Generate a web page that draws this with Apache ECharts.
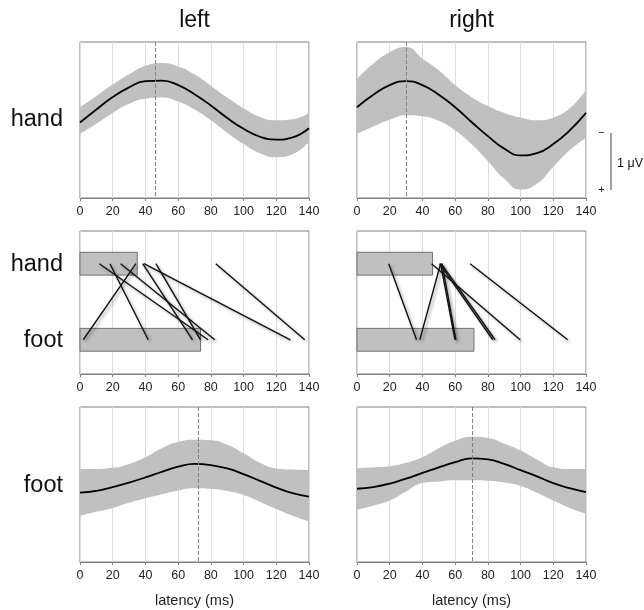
<!DOCTYPE html>
<html>
<head>
<meta charset="utf-8">
<script src="https://cdn.jsdelivr.net/npm/echarts@6/dist/echarts.min.js"></script>
<style>
  html, body { margin: 0; padding: 0; background: #fff; }
  #main { width: 644px; height: 610px; }
</style>
</head>
<body>
<div id="main"></div>
<script>
// latency samples (ms)
var latency = [0, 10, 20, 30, 40, 50, 60, 70, 80, 90, 100, 110, 120, 130, 140];
var xTicks = [0, 140, 20];

// amplitude in uV, negative is drawn up
var leftHandMean  = [-0.08, -0.31, -0.53, -0.70, -0.81, -0.82, -0.74, -0.58, -0.38, -0.16, 0.03, 0.17, 0.22, 0.18, 0.02];
var leftHandUpper = [-0.35, -0.55, -0.75, -0.93, -1.08, -1.13, -1.07, -0.93, -0.73, -0.52, -0.33, -0.18, -0.12, -0.14, -0.25];
var leftHandLower = [0.12, -0.06, -0.25, -0.41, -0.50, -0.52, -0.45, -0.31, -0.12, 0.10, 0.30, 0.46, 0.53, 0.48, 0.26];

var rightHandMean  = [-0.35, -0.57, -0.74, -0.81, -0.74, -0.57, -0.35, -0.09, 0.16, 0.38, 0.50, 0.46, 0.30, 0.06, -0.25];
var rightHandUpper = [-0.85, -1.12, -1.32, -1.41, -1.21, -1.00, -0.74, -0.53, -0.37, -0.25, -0.17, -0.12, -0.17, -0.33, -0.66];
var rightHandLower = [0.12, -0.01, -0.13, -0.21, -0.19, -0.11, 0.06, 0.30, 0.60, 0.91, 1.10, 1.00, 0.70, 0.41, 0.19];

var leftFootMean  = [0.02, -0.01, -0.08, -0.16, -0.25, -0.35, -0.44, -0.49, -0.47, -0.41, -0.31, -0.19, -0.07, 0.03, 0.09];
var leftFootUpper = [-0.40, -0.40, -0.42, -0.49, -0.61, -0.77, -0.88, -0.92, -0.91, -0.83, -0.68, -0.51, -0.41, -0.39, -0.38];
var leftFootLower = [0.43, 0.36, 0.29, 0.20, 0.12, 0.05, -0.02, -0.06, -0.05, -0.01, 0.06, 0.18, 0.31, 0.43, 0.53];

var rightFootMean  = [-0.05, -0.08, -0.14, -0.23, -0.33, -0.43, -0.52, -0.59, -0.57, -0.49, -0.38, -0.27, -0.15, -0.06, 0.01];
var rightFootUpper = [-0.41, -0.43, -0.45, -0.51, -0.61, -0.77, -0.90, -0.97, -0.95, -0.85, -0.73, -0.57, -0.43, -0.40, -0.40];
var rightFootLower = [0.32, 0.25, 0.16, 0.00, -0.15, -0.18, -0.20, -0.20, -0.19, -0.16, -0.10, 0.02, 0.16, 0.29, 0.39];

// peak latency markers (ms)
var peaks = [46, 30, 72.5, 70.5];

// single-subject latencies: hand -> foot (ms)
var leftHandLat  = [11.8, 18.3, 24.8, 34.2, 38.3, 39.1, 46.4, 83.0];
var leftFootLat  = [78.3, 41.7, 82.4, 2.0, 68.8, 128.6, 73.7, 137.4];
var rightHandLat = [19.4, 51.1, 51.1, 52.0, 45.6, 50.5, 51.5, 69.1];
var rightFootLat = [36.4, 38.4, 59.9, 60.5, 99.7, 83.0, 84.4, 128.8];
var leftBars  = [35.0, 73.7];   // hand, foot
var rightBars = [46.2, 71.5];

var rows = ['hand', 'foot'];
var rowY = [1, 0];

var font = "'Liberation Sans', Arial, sans-serif";

var dom = document.getElementById('main');
var myChart = echarts.init(dom);

function pairs(xs, ys) {
  return xs.map(function (x, i) { return [x, ys[i]]; });
}
// y first, so the stack runs on the y dimension
function yxPairs(xs, ys) {
  return xs.map(function (x, i) { return [ys[i], x]; });
}
function diff(a, b) {
  return a.map(function (v, i) { return +(v - b[i]).toFixed(3); });
}

var gridPos = [
  { left: 80, top: 42, height: 156 },
  { left: 357, top: 42, height: 156 },
  { left: 80, top: 231, height: 143 },
  { left: 357, top: 231, height: 143 },
  { left: 80, top: 407, height: 155 },
  { left: 357, top: 407, height: 155 }
];

var grids = gridPos.map(function (g) {
  return {
    left: g.left, top: g.top, width: 229, height: g.height,
    show: true, borderColor: '#7f7f7f', borderWidth: 1,
    outerBoundsMode: 'none', containLabel: false
  };
});

var xAxes = gridPos.map(function (g, i) {
  return {
    type: 'value', gridIndex: i,
    min: xTicks[0], max: xTicks[1], interval: xTicks[2],
    name: i >= 4 ? 'latency (ms)' : '',
    nameLocation: 'middle', nameGap: 31,
    nameTextStyle: { fontSize: 14.5, color: '#222', fontFamily: font },
    axisLine: { onZero: false, lineStyle: { color: '#7f7f7f' } },
    axisTick: { show: true, length: 3, lineStyle: { color: '#7f7f7f' } },
    axisLabel: { fontSize: 12.5, color: '#222', margin: 7.5, fontFamily: font },
    splitLine: { show: true, lineStyle: { color: '#dcdcdc' } }
  };
});

var yAxes = gridPos.map(function (g, i) {
  var mid = (i === 2 || i === 3);
  return {
    type: 'value', gridIndex: i,
    min: mid ? -0.45 : -1.5, max: mid ? 1.43 : 1.25,
    inverse: !mid,
    axisLine: { show: false, onZero: false }, axisTick: { show: false },
    axisLabel: { show: false }, splitLine: { show: false }
  };
});

var series = [];

// wave panels: band + mean + peak marker
var waves = [
  { grid: 0, mean: leftHandMean, up: leftHandUpper, lo: leftHandLower, peak: peaks[0] },
  { grid: 1, mean: rightHandMean, up: rightHandUpper, lo: rightHandLower, peak: peaks[1] },
  { grid: 4, mean: leftFootMean, up: leftFootUpper, lo: leftFootLower, peak: peaks[2] },
  { grid: 5, mean: rightFootMean, up: rightFootUpper, lo: rightFootLower, peak: peaks[3] }
];

waves.forEach(function (w) {
  var st = 'band' + w.grid;
  series.push({
    type: 'line', xAxisIndex: w.grid, yAxisIndex: w.grid,
    encode: { x: 1, y: 0 },
    stack: st, stackStrategy: 'all', smooth: true, symbol: 'none', silent: true,
    lineStyle: { width: 0, opacity: 0 },
    data: yxPairs(latency, w.up)
  });
  series.push({
    type: 'line', xAxisIndex: w.grid, yAxisIndex: w.grid,
    encode: { x: 1, y: 0 },
    stack: st, stackStrategy: 'all', smooth: true, symbol: 'none', silent: true,
    lineStyle: { width: 0, opacity: 0 },
    areaStyle: { color: '#c0c0c0', opacity: 1 },
    data: yxPairs(latency, diff(w.lo, w.up))
  });
  series.push({
    type: 'line', xAxisIndex: w.grid, yAxisIndex: w.grid,
    smooth: true, symbol: 'none', silent: true,
    lineStyle: { color: '#000', width: 1.8 },
    data: pairs(latency, w.mean),
    markLine: {
      symbol: 'none', silent: true, label: { show: false },
      lineStyle: { color: '#808080', type: [4, 2], width: 1 },
      data: [{ xAxis: w.peak }]
    }
  });
});

// middle panels: mean bars + per-subject lines
function renderBar(params, api) {
  var y = api.value(1);
  var start = api.coord([0, y]);
  var end = api.coord([api.value(0), y]);
  var h = api.size([0, 0.3])[1];
  return {
    type: 'rect',
    shape: { x: start[0], y: start[1] - h / 2, width: end[0] - start[0], height: h },
    style: { fill: '#c0c0c0', stroke: '#707070', lineWidth: 1 }
  };
}

var mids = [
  { grid: 2, bars: leftBars, hand: leftHandLat, foot: leftFootLat },
  { grid: 3, bars: rightBars, hand: rightHandLat, foot: rightFootLat }
];

mids.forEach(function (m) {
  series.push({
    type: 'custom', xAxisIndex: m.grid, yAxisIndex: m.grid, silent: true,
    renderItem: renderBar,
    data: pairs(m.bars, rowY)
  });
  series.push({
    type: 'lines', coordinateSystem: 'cartesian2d',
    xAxisIndex: m.grid, yAxisIndex: m.grid, silent: true, z: 3,
    lineStyle: {
      color: '#111', width: 1.4, opacity: 1, curveness: 0,
      shadowBlur: 3, shadowColor: 'rgba(0,0,0,0.35)', shadowOffsetX: 2, shadowOffsetY: 2
    },
    data: m.hand.map(function (h, i) {
      return { coords: [[h, rowY[0]], [m.foot[i], rowY[1]]] };
    })
  });
});

// titles, row labels and the 1 uV scale bar
function label(txt, x, y, size, align) {
  return {
    type: 'text', x: x, y: y,
    style: { text: txt, font: size + 'px ' + font, fill: '#111', textAlign: align, textVerticalAlign: 'middle' }
  };
}

var graphic = [
  label('left', 194.5, 21, 23, 'center'),
  label('right', 471.5, 21, 23, 'center'),
  label(rows[0], 63, 120, 23.5, 'right'),
  label(rows[0], 63, 264.5, 23.5, 'right'),
  label(rows[1], 63, 341, 23.5, 'right'),
  label(rows[1], 63, 486, 23.5, 'right'),
  { type: 'line', shape: { x1: 611, y1: 133, x2: 611, y2: 190 }, style: { stroke: '#444', lineWidth: 1 } },
  label('\u2212', 601.5, 133, 11, 'center'),
  label('+', 601.5, 190, 11, 'center'),
  label('1 \u03bcV', 617, 163.5, 12.5, 'left')
];

var option = {
  animation: false,
  backgroundColor: '#fff',
  textStyle: { fontFamily: font },
  grid: grids,
  xAxis: xAxes,
  yAxis: yAxes,
  series: series,
  graphic: graphic
};

if (option && typeof option === 'object') {
  myChart.setOption(option);
}
</script>
</body>
</html>
